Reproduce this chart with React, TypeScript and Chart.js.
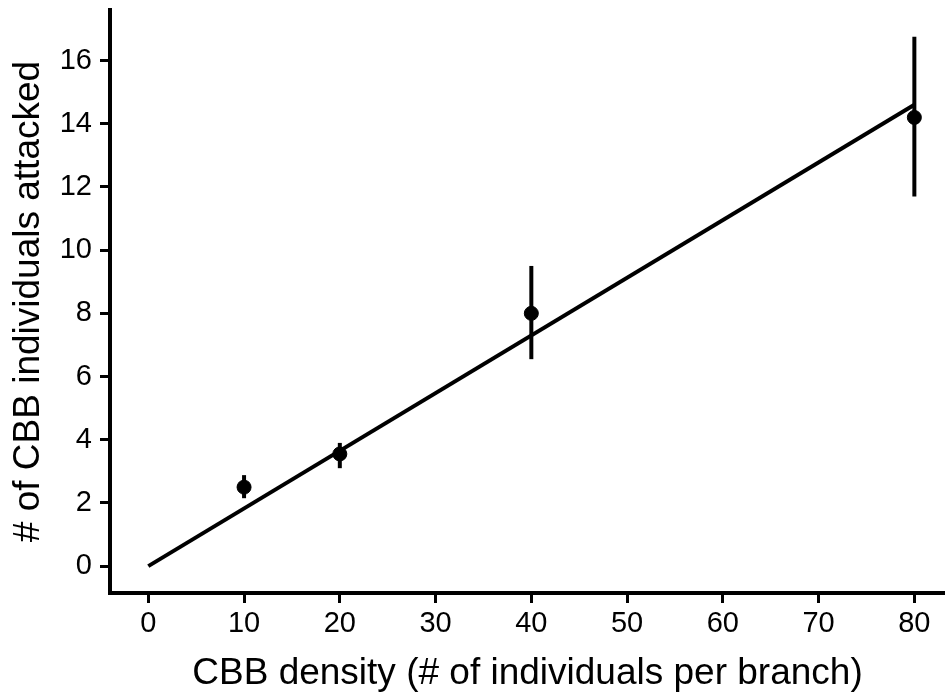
import React, { useEffect, useRef } from 'react';
import { Chart, registerables } from 'chart.js';

Chart.register(...registerables);

// Data
const densities = [10, 20, 40, 80];
const attacked = [2.5, 3.55, 8.0, 14.2];
const errLower = [2.15, 3.1, 6.55, 11.7];
const errUpper = [2.88, 3.9, 9.5, 16.75];
const fitX = [0, 80];
const fitY = [0, 14.6];
const xTicks = [0, 10, 20, 30, 40, 50, 60, 70, 80];
const yTicks = [0, 2, 4, 6, 8, 10, 12, 14, 16];

const FONT = "'Liberation Sans', Arial, sans-serif";

const errorBarPlugin = {
  id: 'errorBars',
  afterDatasetsDraw(chart: any) {
    const { ctx, scales } = chart;
    const x = scales.x;
    const y = scales.y;
    ctx.save();
    ctx.strokeStyle = '#000';
    ctx.lineWidth = 4;
    ctx.lineCap = 'butt';
    densities.forEach((d, i) => {
      const px = x.getPixelForValue(d);
      ctx.beginPath();
      ctx.moveTo(px, y.getPixelForValue(errLower[i]));
      ctx.lineTo(px, y.getPixelForValue(errUpper[i]));
      ctx.stroke();
    });
    ctx.restore();
  },
};

export default function App() {
  const ref = useRef<HTMLCanvasElement | null>(null);

  useEffect(() => {
    if (!ref.current) return;
    Chart.defaults.font.family = FONT;
    const chart = new Chart(ref.current, {
      type: 'scatter',
      data: {
        datasets: [
          {
            type: 'line',
            data: fitX.map((v, i) => ({ x: v, y: fitY[i] })),
            borderColor: '#000',
            borderWidth: 4,
            pointRadius: 0,
            fill: false,
          } as any,
          {
            type: 'scatter',
            data: densities.map((v, i) => ({ x: v, y: attacked[i] })),
            backgroundColor: '#000',
            borderColor: '#000',
            borderWidth: 1,
            pointRadius: 7,
          },
        ],
      },
      options: {
        animation: false,
        responsive: false,
        layout: { autoPadding: false, padding: { top: 10, left: 0, right: 0, bottom: 0 } },
        plugins: { legend: { display: false }, tooltip: { enabled: false } },
        scales: {
          x: {
            type: 'linear',
            min: -4,
            max: 83.2,
            afterBuildTicks: (s: any) => {
              s.ticks = xTicks.map((v) => ({ value: v }));
            },
            afterFit: (s: any) => {
              s.height = 105;
              s.paddingLeft = 0;
              s.paddingRight = 0;
            },
            grid: {
              drawOnChartArea: false,
              drawTicks: true,
              tickLength: 10,
              tickWidth: 3,
              tickColor: '#000',
              color: '#000',
            },
            border: { display: true, color: '#000', width: 4 },
            ticks: {
              color: '#000',
              font: { family: FONT, size: 29 },
              padding: 4,
              maxRotation: 0,
              autoSkip: false,
            },
            title: {
              display: true,
              text: 'CBB density (# of individuals per branch)',
              color: '#000',
              font: { family: FONT, size: 37 },
              padding: { top: 0, bottom: 2 },
            },
          },
          y: {
            type: 'linear',
            min: -0.85,
            max: 17.6,
            afterBuildTicks: (s: any) => {
              s.ticks = yTicks.map((v) => ({ value: v }));
            },
            afterFit: (s: any) => {
              s.width = 110;
              s.paddingTop = 0;
              s.paddingBottom = 0;
            },
            grid: {
              drawOnChartArea: false,
              drawTicks: true,
              tickLength: 10,
              tickWidth: 3,
              tickColor: '#000',
              color: '#000',
            },
            border: { display: true, color: '#000', width: 4 },
            ticks: {
              color: '#000',
              font: { family: FONT, size: 29 },
              padding: 8,
              autoSkip: false,
            },
            title: {
              display: true,
              text: '# of CBB individuals attacked',
              color: '#000',
              font: { family: FONT, size: 37 },
              padding: { top: 7, bottom: 0 },
            },
          },
        },
      } as any,
      plugins: [errorBarPlugin],
    });
    return () => chart.destroy();
  }, []);

  return (
    <div style={{ position: 'fixed', left: 0, top: 0, width: 945, height: 698, background: '#fff' }}>
      <canvas ref={ref} width={945} height={698} />
    </div>
  );
}
